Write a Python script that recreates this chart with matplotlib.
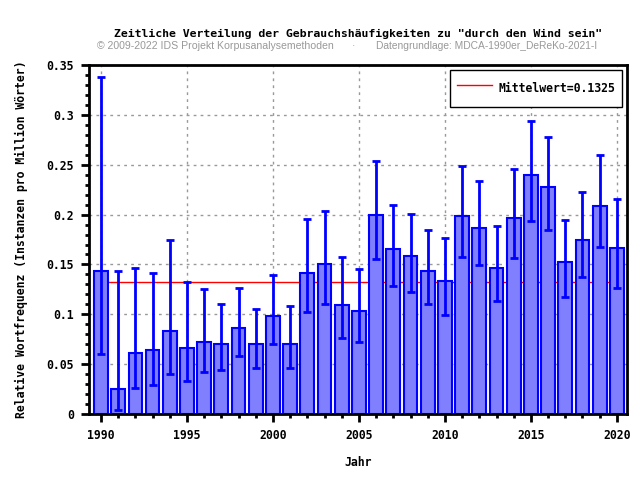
import numpy as np
import matplotlib
matplotlib.use('Agg')
from matplotlib import pyplot as plt
from matplotlib.ticker import MultipleLocator, FuncFormatter

# Daten
jahre = list(range(1990, 2021))
werte = [0.143, 0.025, 0.061, 0.064, 0.083, 0.066, 0.072, 0.070, 0.086, 0.070,
         0.098, 0.070, 0.141, 0.150, 0.109, 0.103, 0.200, 0.165, 0.158, 0.143,
         0.133, 0.199, 0.187, 0.146, 0.197, 0.240, 0.228, 0.152, 0.175, 0.209,
         0.166]
unten = [0.060, 0.004, 0.026, 0.029, 0.040, 0.033, 0.042, 0.044, 0.058, 0.046,
         0.070, 0.046, 0.102, 0.110, 0.076, 0.072, 0.155, 0.128, 0.122, 0.110,
         0.099, 0.157, 0.149, 0.113, 0.156, 0.194, 0.185, 0.117, 0.137, 0.167,
         0.126]
oben = [0.338, 0.143, 0.146, 0.141, 0.175, 0.132, 0.125, 0.110, 0.126, 0.105,
        0.139, 0.108, 0.196, 0.204, 0.157, 0.145, 0.254, 0.210, 0.201, 0.185,
        0.177, 0.249, 0.234, 0.189, 0.246, 0.294, 0.278, 0.195, 0.223, 0.260,
        0.216]
mittelwert = 0.1325

mono = 'DejaVu Sans Mono'
werte = np.array(werte)
yerr = [werte - np.array(unten), np.array(oben) - werte]

fig = plt.figure(figsize=(6.4, 4.8), dpi=100)
ax = fig.add_axes([0.139, 0.1375, 0.841, 0.727])

# Mittelwert-Linie hinter den Balken
ax.plot([jahre[0], jahre[-1]], [mittelwert, mittelwert], color='red', linewidth=1,
        zorder=1, label='Mittelwert=0.1325')
ax.bar(jahre, werte, width=0.8, color='#8080ff', edgecolor='#0000ff', linewidth=1.5, zorder=2)
ax.errorbar(jahre, werte, yerr=yerr, fmt='none', ecolor='#0000ff', elinewidth=2,
            capsize=3, capthick=2, zorder=3)

ax.set_xlim(1989.3, 2020.6)
ax.set_ylim(0, 0.35)
ax.xaxis.set_major_locator(MultipleLocator(5))
ax.xaxis.set_minor_locator(MultipleLocator(1))
ax.yaxis.set_major_locator(MultipleLocator(0.05))
ax.yaxis.set_minor_locator(MultipleLocator(0.01))
ax.yaxis.set_major_formatter(FuncFormatter(
    lambda v, p: '0' if v == 0 else ('%.2f' % v).rstrip('0')))

ax.grid(True, which='major', linestyle=(0, (2, 3)), color='#999999', linewidth=1, zorder=0)
ax.set_axisbelow(True)
for s in ax.spines.values():
    s.set_linewidth(2)
ax.tick_params(which='major', length=6, width=2, direction='out', pad=5)
ax.tick_params(which='minor', length=3, width=2, direction='out')
for lab in ax.get_xticklabels() + ax.get_yticklabels():
    lab.set_family(mono)
    lab.set_fontweight('bold')
    lab.set_fontsize(8.3)

ax.set_xlabel('Jahr', family=mono, fontweight='bold', fontsize=8.3, labelpad=10)
ax.set_ylabel('Relative Wortfrequenz (Instanzen pro Million Wörter)', family=mono,
              fontweight='bold', fontsize=8.3, labelpad=13)

fig.text(0.559, 0.929, 'Zeitliche Verteilung der Gebrauchshäufigkeiten zu "durch den Wind sein"',
         ha='center', va='center', family=mono, fontweight='bold', fontsize=8.26)
fig.text(0.151, 0.904, '© 2009-2022 IDS Projekt Korpusanalysemethoden', ha='left', va='center',
         family='Liberation Sans', fontsize=7.6, color='#999999')
fig.text(0.552, 0.904, '·', ha='center', va='center', family='Liberation Sans',
         fontsize=7.6, color='#999999')
fig.text(0.5875, 0.904, 'Datengrundlage: MDCA-1990er_DeReKo-2021-I', ha='left', va='center',
         family='Liberation Sans', fontsize=7.4, color='#999999')

leg = ax.legend(loc='upper right', prop={'family': mono, 'weight': 'bold', 'size': 8.3},
                fancybox=False, edgecolor='black', framealpha=1, borderpad=0.6,
                handlelength=3.1, handleheight=2.7, handletextpad=0.5, borderaxespad=0.45)
leg.get_frame().set_linewidth(1)

plt.savefig('out.png', dpi=100)
